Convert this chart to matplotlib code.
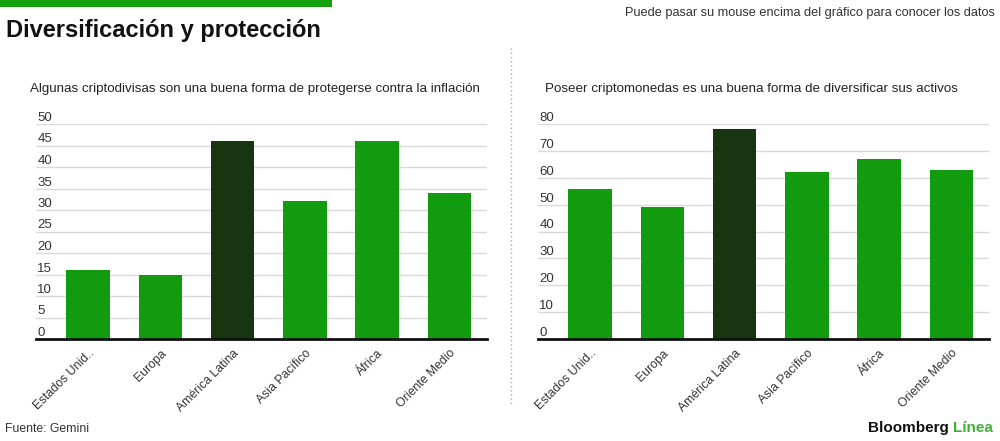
import matplotlib
matplotlib.use('Agg')
import matplotlib.pyplot as plt
from matplotlib.lines import Line2D
from matplotlib.patches import Rectangle

plt.rcParams['font.family'] = ['Liberation Sans', 'DejaVu Sans']

regiones = ['Estados Unid..', 'Europa', 'América Latina', 'Asia Pacífico', 'África', 'Oriente Medio']
inflacion = [16, 15, 46, 32, 46, 34]
diversificar = [56, 49, 78, 62, 67, 63]
ticks_izq = [0, 5, 10, 15, 20, 25, 30, 35, 40, 45, 50]
ticks_der = [0, 10, 20, 30, 40, 50, 60, 70, 80]

verde = '#139b0f'
verde_oscuro = '#17350f'
gris_texto = '#333333'

W, H = 1000, 441
fig = plt.figure(figsize=(W / 100, H / 100), dpi=100)


def px_axes(x0, y0, x1, y1):
    # caja en pixeles (desde arriba) -> coords de figura
    return fig.add_axes([x0 / W, 1 - y1 / H, (x1 - x0) / W, (y1 - y0) / H])


def dibujar(ax, valores, ticks, titulo, tx):
    colores = [verde_oscuro if r == 'América Latina' else verde for r in regiones]
    ax.bar(range(len(regiones)), valores, width=0.6, color=colores, zorder=2)
    ax.set_xlim(-0.72, len(regiones) - 0.48)
    ax.set_ylim(0, ticks[-1])
    for s in ['top', 'right', 'left']:
        ax.spines[s].set_visible(False)
    ax.spines['bottom'].set_linewidth(2)
    ax.spines['bottom'].set_color('#111111')
    ax.set_yticks(ticks)
    ax.yaxis.grid(True, color='#d9d9d9', linewidth=1, zorder=0)
    ax.tick_params(axis='y', length=0, labelleft=False)
    # etiquetas del eje y encima de cada linea
    for t in ticks:
        ax.text(0.003, t, str(t), transform=ax.get_yaxis_transform(),
                ha='left', va='bottom', fontsize=9.5, color=gris_texto,
                clip_on=False)
    ax.set_xticks(range(len(regiones)))
    ax.set_xticklabels(regiones, rotation=45, ha='right', rotation_mode='anchor',
                       fontsize=8.8, color=gris_texto)
    ax.tick_params(axis='x', length=0, pad=6)
    fig.text(tx / W, 1 - 89 / H, titulo, ha='left', va='center',
             fontsize=9.6, color='#222222')


ax1 = px_axes(36, 124, 487, 339)
dibujar(ax1, inflacion, ticks_izq,
        'Algunas criptodivisas son una buena forma de protegerse contra la inflación', 30)
ax2 = px_axes(538, 124, 989, 339)
dibujar(ax2, diversificar, ticks_der,
        'Poseer criptomonedas es una buena forma de diversificar sus activos', 545)

# barra verde superior
fig.add_artist(Rectangle((0, 1 - 7 / H), 332 / W, 7 / H, transform=fig.transFigure,
                         color='#14a00f', lw=0))
fig.text(6 / W, 1 - 30 / H, 'Diversificación y protección', ha='left', va='center',
         fontsize=17, fontweight='bold', color='#111111')
fig.text(995 / W, 1 - 13 / H, 'Puede pasar su mouse encima del gráfico para conocer los datos',
         ha='right', va='center', fontsize=9.2, color=gris_texto)

# separador punteado
fig.add_artist(Line2D([511 / W, 511 / W], [1 - 48 / H, 1 - 406 / H], transform=fig.transFigure,
                      color='#aaaaaa', linestyle=(0, (1, 2)), linewidth=1))

fig.text(5 / W, 1 - 429 / H, 'Fuente: Gemini', ha='left', va='center',
         fontsize=8.8, color=gris_texto)
linea = fig.text(993 / W, 1 - 428 / H, 'Línea', ha='right', va='center',
                 fontsize=11, fontweight='bold', color='#3fae3a')
plt.annotate('Bloomberg', xy=(0, 0.5), xycoords=linea, xytext=(-4, 0),
             textcoords='offset pixels', ha='right', va='center',
             fontsize=11, fontweight='bold', color='#111111')

fig.savefig('out.png', dpi=100)
